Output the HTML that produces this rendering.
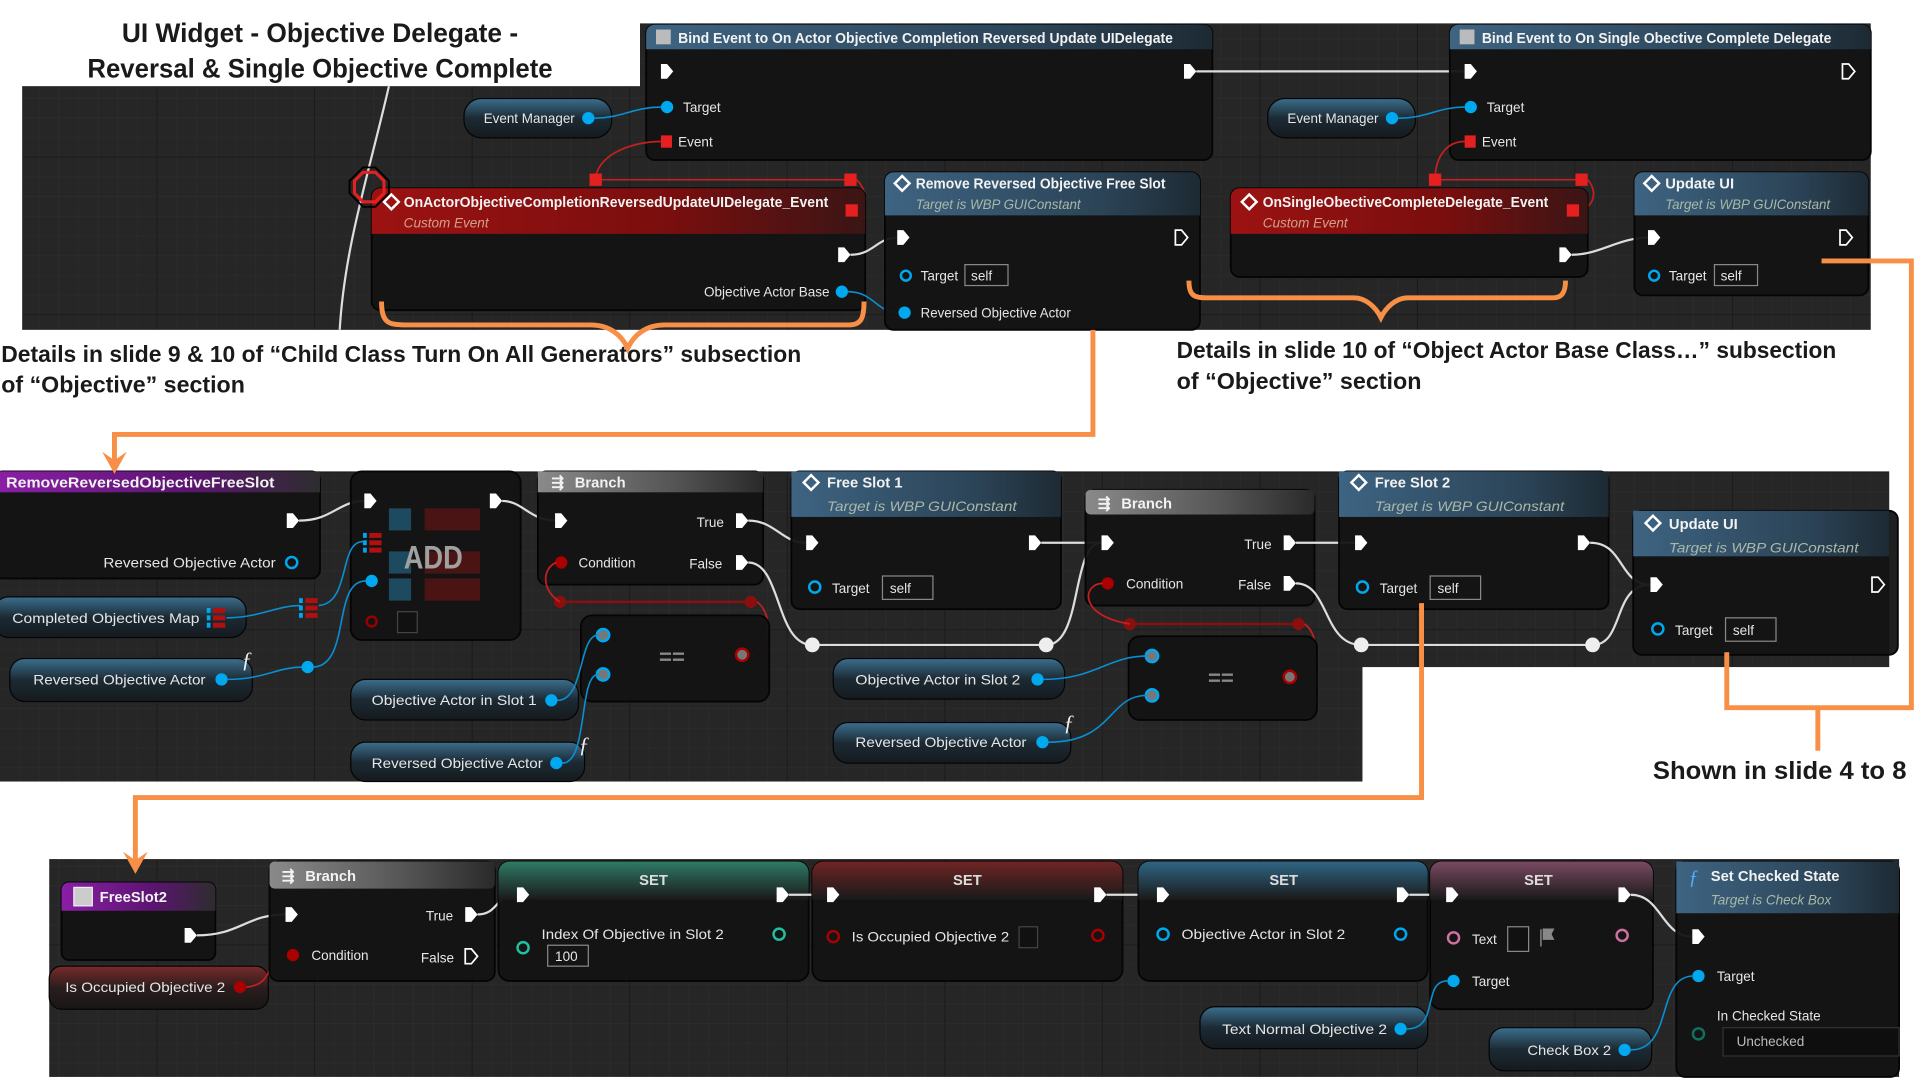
<!DOCTYPE html>
<html><head><meta charset="utf-8"><style>
html,body{margin:0;padding:0;background:#fff;width:1920px;height:1080px;overflow:hidden}
svg{display:block}
.t{fill:#e6e6e6;font-family:"Liberation Sans Narrow","Liberation Sans",sans-serif;font-size:11px}
.h{fill:#f2f2f2;font-family:"Liberation Sans Narrow","Liberation Sans",sans-serif;font-size:12px;font-weight:bold}
.s{fill:#a9b8a8;font-family:"Liberation Sans Narrow","Liberation Sans",sans-serif;font-size:11px;font-style:italic}
.big{fill:#1a1a1a;font-family:"Liberation Sans Narrow","Liberation Sans",sans-serif;font-weight:bold}
.node{fill:#131313;fill-opacity:.95;stroke:#050505;stroke-width:1.5}
.ex{fill:#fff}
.exh{fill:none;stroke:#fff;stroke-width:1.4}
.w{fill:none;stroke:#ddd;stroke-width:1.8}
.bw{fill:none;stroke:#0a8fd0;stroke-width:1.3}
.rw{fill:none;stroke:#c42020;stroke-width:1.4}
.or{fill:none;stroke:#f79046;stroke-width:4}
.bp{fill:#00a8f0}
.bph{fill:none;stroke:#00a8f0;stroke-width:2}
.box{fill:#141414;stroke:#888;stroke-width:1}
</style></head><body>
<svg width="1920" height="1080" viewBox="0 0 1560 877.5" preserveAspectRatio="none" xmlns="http://www.w3.org/2000/svg">
<defs>
<pattern id="g" width="16" height="16" patternUnits="userSpaceOnUse"><rect width="16" height="16" fill="#262626"/><path d="M16 0V16M0 16H16" stroke="#2e2e2e" stroke-width="1"/></pattern>
<pattern id="G" width="128" height="128" patternUnits="userSpaceOnUse"><rect width="128" height="128" fill="url(#g)"/><path d="M128 0V128M0 128H128" stroke="#1a1a1a" stroke-width="1.5"/></pattern>
<linearGradient id="blue" x1="0" x2="1"><stop offset="0" stop-color="#3e6482"/><stop offset=".7" stop-color="#2b4356"/><stop offset="1" stop-color="#1d2a33"/></linearGradient>
<linearGradient id="red" x1="0" x2="1"><stop offset="0" stop-color="#9c1212"/><stop offset=".6" stop-color="#7a0e0e"/><stop offset="1" stop-color="#3a1515"/></linearGradient>
<linearGradient id="purp" x1="0" x2="1"><stop offset="0" stop-color="#8a1fa6"/><stop offset=".6" stop-color="#5b1470"/><stop offset="1" stop-color="#2d2d2d"/></linearGradient>
<linearGradient id="gray" x1="0" x2="1"><stop offset="0" stop-color="#8a8a8a"/><stop offset=".6" stop-color="#555"/><stop offset="1" stop-color="#2a2a2a"/></linearGradient>
<linearGradient id="pillg" x1="0" y1="0" x2="0" y2="1"><stop offset="0" stop-color="#3b6f8e"/><stop offset=".5" stop-color="#1c2a34"/><stop offset="1" stop-color="#151a1e"/></linearGradient>
<linearGradient id="pillr" x1="0" y1="0" x2="0" y2="1"><stop offset="0" stop-color="#7a2a2a"/><stop offset=".5" stop-color="#2a1d1d"/><stop offset="1" stop-color="#181616"/></linearGradient>
<linearGradient id="setg" x1="0" y1="0" x2="0" y2="1"><stop offset="0" stop-color="#2f7a66"/><stop offset="1" stop-color="#1a1a1a"/></linearGradient>
<linearGradient id="setr" x1="0" y1="0" x2="0" y2="1"><stop offset="0" stop-color="#6e2424"/><stop offset="1" stop-color="#1a1a1a"/></linearGradient>
<linearGradient id="setb" x1="0" y1="0" x2="0" y2="1"><stop offset="0" stop-color="#2f6684"/><stop offset="1" stop-color="#1a1a1a"/></linearGradient>
<linearGradient id="setp" x1="0" y1="0" x2="0" y2="1"><stop offset="0" stop-color="#7a4a62"/><stop offset="1" stop-color="#1a1a1a"/></linearGradient>
</defs>

<rect x="18" y="70" width="510" height="198" fill="url(#G)"/>
<rect x="520" y="19" width="1000" height="249" fill="url(#G)"/>
<rect x="0" y="383" width="1107" height="252" fill="url(#G)"/>
<rect x="1100" y="383" width="435" height="159" fill="url(#G)"/>
<rect x="40" y="698" width="1503" height="177" fill="url(#G)"/>

<text class="big" x="260" y="34" text-anchor="middle" font-size="22" textLength="322" lengthAdjust="spacingAndGlyphs">UI Widget - Objective Delegate -</text>
<text class="big" x="260" y="63" text-anchor="middle" font-size="22" textLength="378" lengthAdjust="spacingAndGlyphs">Reversal &amp; Single Objective Complete</text>
<text class="big" x="1" y="294" font-size="19" textLength="650" lengthAdjust="spacingAndGlyphs">Details in slide 9 &amp; 10 of “Child Class Turn On All Generators” subsection</text>
<text class="big" x="1" y="319" font-size="19" textLength="198" lengthAdjust="spacingAndGlyphs">of “Objective” section</text>
<text class="big" x="956" y="291" font-size="19" textLength="536" lengthAdjust="spacingAndGlyphs">Details in slide 10 of “Object Actor Base Class…” subsection</text>
<text class="big" x="956" y="316" font-size="19" textLength="199" lengthAdjust="spacingAndGlyphs">of “Objective” section</text>
<text class="big" x="1343" y="633" font-size="20" textLength="206" lengthAdjust="spacingAndGlyphs">Shown in slide 4 to 8</text>

<path d="M316 70 C300 140 280 200 276 268" class="w" stroke-width="1.5"/>
<rect class="node" x="525" y="20" width="460" height="110" rx="7"/>
<path d="M532 20h446a7 7 0 0 1 7 7v13H525V27a7 7 0 0 1 7-7z" fill="url(#blue)"/>
<rect x="533" y="24" width="12" height="12" fill="#bbb"/>
<text class="h" x="551" y="35" textLength="402" lengthAdjust="spacingAndGlyphs">Bind Event to On Actor Objective Completion Reversed Update UIDelegate</text>
<path class="ex" d="M537 52h5l5 6-5 6h-5z"/><path class="ex" d="M962 52h5l5 6-5 6h-5z"/>
<circle class="bp" cx="542" cy="87" r="5"/><text class="t" x="555" y="91">Target</text>
<rect x="537" y="110" width="9" height="10" fill="#e52020"/><text class="t" x="551" y="119">Event</text>
<path d="M972 58H1190" class="w"/>
<rect x="377" y="80" width="120" height="32" rx="14" fill="url(#pillg)" stroke="#050505"/>
<text class="t" x="393" y="100" textLength="74" lengthAdjust="spacingAndGlyphs">Event Manager</text><circle class="bp" cx="478" cy="96" r="5"/>
<path class="bw" d="M483 96C505 96 515 87 537 87"/>
<rect class="node" x="1178" y="20" width="342" height="110" rx="7"/>
<path d="M1185 20h328a7 7 0 0 1 7 7v13H1178V27a7 7 0 0 1 7-7z" fill="url(#blue)"/>
<rect x="1186" y="24" width="12" height="12" fill="#bbb"/>
<text class="h" x="1204" y="35" textLength="284" lengthAdjust="spacingAndGlyphs">Bind Event to On Single Obective Complete Delegate</text>
<path class="ex" d="M1190 52h5l5 6-5 6h-5z"/><path class="exh" d="M1497 52h5l5 6-5 6h-5z"/>
<circle class="bp" cx="1195" cy="87" r="5"/><text class="t" x="1208" y="91">Target</text>
<rect x="1190" y="110" width="9" height="10" fill="#e52020"/><text class="t" x="1204" y="119">Event</text>
<rect x="1030" y="80" width="120" height="32" rx="14" fill="url(#pillg)" stroke="#050505"/>
<text class="t" x="1046" y="100" textLength="74" lengthAdjust="spacingAndGlyphs">Event Manager</text><circle class="bp" cx="1131" cy="96" r="5"/>
<path class="bw" d="M1136 96C1160 96 1168 87 1190 87"/>

<path class="rw" d="M484 146H691M484 146C484 128 510 115 537 115"/>
<rect x="479" y="141" width="10" height="10" fill="#e52020"/><rect x="686" y="141" width="10" height="10" fill="#e52020"/>
<path class="rw" d="M696 146C705 155 705 168 697 171"/>
<path class="rw" d="M1166 146H1285M1166 146C1166 128 1175 115 1190 115"/>
<rect x="1161" y="141" width="10" height="10" fill="#e52020"/><rect x="1280" y="141" width="10" height="10" fill="#e52020"/>
<path class="rw" d="M1290 146C1298 155 1296 168 1283 171"/>

<rect class="node" x="302" y="153" width="401" height="99" rx="7"/>
<path d="M309 153h387a7 7 0 0 1 7 7v30H302v-30a7 7 0 0 1 7-7z" fill="url(#red)"/>
<path d="M318 158l6 6-6 6-6-6z" fill="none" stroke="#fff" stroke-width="2"/>
<text class="h" x="328" y="168" textLength="345" lengthAdjust="spacingAndGlyphs">OnActorObjectiveCompletionReversedUpdateUIDelegate_Event</text>
<text class="s" x="328" y="185" style="fill:#d4a08c">Custom Event</text>
<rect x="687" y="166" width="10" height="10" fill="#e52020"/>
<path class="ex" d="M681 201h5l5 6-5 6h-5z"/>
<text class="t" x="572" y="241" textLength="102" lengthAdjust="spacingAndGlyphs">Objective Actor Base</text><circle class="bp" cx="684" cy="237" r="5"/>
<polygon points="295,140 305,140 312,147 312,157 305,164 295,164 288,157 288,147" fill="none" stroke="#e52020" stroke-width="2.5"/>
<polygon points="295,136 305,136 316,147 316,157 305,168 295,168 284,157 284,147" fill="none" stroke="#000" stroke-width="1.5"/>
<path class="w" d="M691 207C710 207 712 193 730 193"/>
<path class="bw" d="M689 237C710 237 712 254 730 254"/>

<rect class="node" x="719" y="140" width="256" height="128" rx="7"/>
<path d="M726 140h242a7 7 0 0 1 7 7v28H719v-28a7 7 0 0 1 7-7z" fill="url(#blue)"/>
<path d="M733 143l6 6-6 6-6-6z" fill="none" stroke="#fff" stroke-width="2"/>
<text class="h" x="744" y="153" textLength="203" lengthAdjust="spacingAndGlyphs">Remove Reversed Objective Free Slot</text>
<text class="s" x="744" y="170" textLength="134" lengthAdjust="spacingAndGlyphs">Target is WBP GUIConstant</text>
<path class="ex" d="M729 187h5l5 6-5 6h-5z"/><path class="exh" d="M955 187h5l5 6-5 6h-5z"/>
<circle class="bph" cx="736" cy="224" r="4"/><text class="t" x="748" y="228">Target</text>
<rect class="box" x="784" y="215" width="35" height="17"/><text class="t" x="789" y="228">self</text>
<circle class="bp" cx="735" cy="254" r="5"/><text class="t" x="748" y="258" textLength="122" lengthAdjust="spacingAndGlyphs">Reversed Objective Actor</text>

<rect class="node" x="1000" y="153" width="290" height="72" rx="7"/>
<path d="M1007 153h276a7 7 0 0 1 7 7v30H1000v-30a7 7 0 0 1 7-7z" fill="url(#red)"/>
<path d="M1015 158l6 6-6 6-6-6z" fill="none" stroke="#fff" stroke-width="2"/>
<text class="h" x="1026" y="168" textLength="232" lengthAdjust="spacingAndGlyphs">OnSingleObectiveCompleteDelegate_Event</text>
<text class="s" x="1026" y="185" style="fill:#d4a08c">Custom Event</text>
<rect x="1273" y="166" width="10" height="10" fill="#e52020"/>
<path class="ex" d="M1267 201h5l5 6-5 6h-5z"/>
<path class="w" d="M1277 207C1300 207 1315 193 1340 193"/>

<rect class="node" x="1328" y="140" width="190" height="100" rx="7"/>
<path d="M1335 140h176a7 7 0 0 1 7 7v28H1328v-28a7 7 0 0 1 7-7z" fill="url(#blue)"/>
<path d="M1342 143l6 6-6 6-6-6z" fill="none" stroke="#fff" stroke-width="2"/>
<text class="h" x="1353" y="153">Update UI</text>
<text class="s" x="1353" y="170" textLength="134" lengthAdjust="spacingAndGlyphs">Target is WBP GUIConstant</text>
<path class="ex" d="M1339 187h5l5 6-5 6h-5z"/><path class="exh" d="M1495 187h5l5 6-5 6h-5z"/>
<circle class="bph" cx="1344" cy="224" r="4"/><text class="t" x="1356" y="228">Target</text>
<rect class="box" x="1393" y="215" width="35" height="17"/><text class="t" x="1398" y="228">self</text>

<!-- MIDDLE -->
<rect class="node" x="-5" y="383" width="265" height="87" rx="7"/>
<rect x="0" y="383" width="260" height="17" fill="url(#purp)"/>
<text class="h" x="5" y="396" font-size="13" textLength="218" lengthAdjust="spacingAndGlyphs">RemoveReversedObjectiveFreeSlot</text>
<path class="ex" d="M233 417h5l5 6-5 6h-5z"/>
<text class="t" x="84" y="461" font-size="12" textLength="140" lengthAdjust="spacingAndGlyphs">Reversed Objective Actor</text><circle class="bph" cx="237" cy="457" r="4.5"/>
<path class="w" d="M243 423C270 423 275 407 296 407"/>

<rect class="node" x="285" y="383" width="138" height="137" rx="9"/>
<rect x="316" y="413" width="18" height="18" fill="#1e4a60"/><rect x="345" y="413" width="45" height="18" fill="#4a1414"/>
<rect x="316" y="448" width="18" height="18" fill="#1e4a60"/><rect x="345" y="448" width="45" height="18" fill="#4a1414"/>
<rect x="316" y="470" width="18" height="18" fill="#1e4a60"/><rect x="345" y="470" width="45" height="18" fill="#4a1414"/>
<text x="352" y="462" text-anchor="middle" font-family="Liberation Sans Narrow,Liberation Sans,sans-serif" font-weight="bold" font-size="26" fill="#a0a0a0" textLength="48" lengthAdjust="spacingAndGlyphs">ADD</text>
<path class="ex" d="M296 401h5l5 6-5 6h-5z"/><path class="ex" d="M398 401h5l5 6-5 6h-5z"/>
<rect x="295" y="433" width="3" height="4" fill="#00a8f0"/><rect x="300" y="433" width="10" height="4" fill="#b01010"/>
<rect x="295" y="439" width="3" height="4" fill="#00a8f0"/><rect x="300" y="439" width="10" height="4" fill="#b01010"/>
<rect x="295" y="445" width="3" height="4" fill="#00a8f0"/><rect x="300" y="445" width="10" height="4" fill="#b01010"/>
<circle class="bp" cx="302" cy="472" r="5"/>
<circle cx="302" cy="505" r="4" fill="none" stroke="#900" stroke-width="2"/><rect x="323" y="497" width="16" height="17" fill="#111" stroke="#444"/>
<path class="w" d="M408 407C425 407 430 423 452 423"/>

<rect x="-5" y="485" width="205" height="33" rx="12" fill="url(#pillg)" stroke="#050505"/>
<text class="t" x="10" y="506" font-size="12" textLength="152" lengthAdjust="spacingAndGlyphs">Completed Objectives Map</text>
<rect x="168" y="494" width="3" height="4" fill="#00a8f0"/><rect x="173" y="494" width="10" height="4" fill="#b01010"/>
<rect x="168" y="500" width="3" height="4" fill="#00a8f0"/><rect x="173" y="500" width="10" height="4" fill="#b01010"/>
<rect x="168" y="506" width="3" height="4" fill="#00a8f0"/><rect x="173" y="506" width="10" height="4" fill="#b01010"/>
<path class="bw" d="M184 502C210 502 225 492 244 492"/>
<rect x="243" y="486" width="3" height="4" fill="#00a8f0"/><rect x="248" y="486" width="10" height="4" fill="#b01010"/>
<rect x="243" y="492" width="3" height="4" fill="#00a8f0"/><rect x="248" y="492" width="10" height="4" fill="#b01010"/>
<rect x="243" y="498" width="3" height="4" fill="#00a8f0"/><rect x="248" y="498" width="10" height="4" fill="#b01010"/>
<path class="bw" d="M259 492C285 490 275 440 295 440"/>

<rect x="8" y="535" width="197" height="35" rx="12" fill="url(#pillg)" stroke="#050505"/>
<text class="t" x="27" y="556" font-size="12" textLength="140" lengthAdjust="spacingAndGlyphs">Reversed Objective Actor</text><circle class="bp" cx="180" cy="552" r="5"/>
<text x="196" y="542" font-family="Liberation Serif,serif" font-style="italic" font-size="18" fill="#eee">ƒ</text>
<path class="bw" d="M185 552C215 552 225 542 246 542"/>
<circle class="bp" cx="250" cy="542" r="5"/>
<path class="bw" d="M255 542C285 540 270 472 297 472"/>

<rect class="node" x="437" y="383" width="183" height="92" rx="7"/>
<rect x="437" y="383" width="183" height="17" fill="url(#gray)"/>
<text class="h" x="448" y="396" font-size="13">⇶</text>
<text class="h" x="467" y="396" font-size="13">Branch</text>
<path class="ex" d="M451 417h5l5 6-5 6h-5z"/>
<text class="t" x="566" y="428" font-size="12">True</text><path class="ex" d="M598 417h5l5 6-5 6h-5z"/>
<circle cx="456" cy="457" r="5" fill="#a00"/><text class="t" x="470" y="461" font-size="12">Condition</text>
<text class="t" x="560" y="462" font-size="12">False</text><path class="ex" d="M598 451h5l5 6-5 6h-5z"/>
<path d="M455 489H610" stroke="#8a0f0f" stroke-width="2"/>
<circle cx="455" cy="489" r="5" fill="#8a0f0f"/><circle cx="610" cy="489" r="5" fill="#8a0f0f"/>
<path class="rw" stroke="#8a0f0f" d="M455 489C440 480 440 462 452 457M615 489C630 500 625 530 608 532"/>

<rect class="node" x="472" y="500" width="153" height="70" rx="9"/>
<circle cx="490" cy="516" r="5" fill="#777" stroke="#00a8f0" stroke-width="2"/>
<circle cx="490" cy="548" r="5" fill="#777" stroke="#00a8f0" stroke-width="2"/>
<text x="546" y="540" text-anchor="middle" font-family="Liberation Sans,sans-serif" font-weight="bold" font-size="18" fill="#888">==</text>
<circle cx="603" cy="532" r="5" fill="#777" stroke="#a00" stroke-width="2"/>

<rect x="285" y="552" width="185" height="33" rx="12" fill="url(#pillg)" stroke="#050505"/>
<text class="t" x="302" y="573" font-size="12" textLength="134" lengthAdjust="spacingAndGlyphs">Objective Actor in Slot 1</text><circle class="bp" cx="448" cy="569" r="5"/>
<rect x="285" y="603" width="190" height="32" rx="12" fill="url(#pillg)" stroke="#050505"/>
<text class="t" x="302" y="624" font-size="12" textLength="139" lengthAdjust="spacingAndGlyphs">Reversed Objective Actor</text><circle class="bp" cx="452" cy="620" r="5"/>
<text x="470" y="611" font-family="Liberation Serif,serif" font-style="italic" font-size="18" fill="#eee">ƒ</text>
<path class="bw" d="M453 569C475 569 470 516 486 516"/>
<path class="bw" d="M457 620C478 620 470 548 486 548"/>

<path class="w" d="M608 423C630 423 635 441 655 441"/>
<path class="w" d="M608 457C635 457 630 524 660 524H850C880 524 870 441 895 441"/>
<circle cx="660" cy="524" r="6" fill="#eee"/><circle cx="850" cy="524" r="6" fill="#eee"/>

<rect class="node" x="643" y="383" width="219" height="112" rx="7"/>
<rect x="643" y="383" width="219" height="37" fill="url(#blue)"/>
<path d="M659 386l6 6-6 6-6-6z" fill="none" stroke="#fff" stroke-width="2"/>
<text class="h" x="672" y="396" font-size="13">Free Slot 1</text>
<text class="s" x="672" y="415" font-size="12" textLength="154" lengthAdjust="spacingAndGlyphs">Target is WBP GUIConstant</text>
<path class="ex" d="M655 435h5l5 6-5 6h-5z"/><path class="ex" d="M836 435h5l5 6-5 6h-5z"/>
<circle class="bph" cx="662" cy="477" r="4.5"/><text class="t" x="676" y="482" font-size="13">Target</text>
<rect class="box" x="717" y="468" width="41" height="19"/><text class="t" x="723" y="482" font-size="13">self</text>
<path class="w" d="M846 441H895"/>

<rect class="node" x="882" y="398" width="186" height="94" rx="7"/>
<rect x="882" y="398" width="186" height="20" rx="4" fill="url(#gray)"/>
<text class="h" x="892" y="413" font-size="13">⇶</text>
<text class="h" x="911" y="413" font-size="13">Branch</text>
<path class="ex" d="M895 435h5l5 6-5 6h-5z"/>
<text class="t" x="1011" y="446" font-size="12">True</text><path class="ex" d="M1043 435h5l5 6-5 6h-5z"/>
<circle cx="900" cy="474" r="5" fill="#a00"/><text class="t" x="915" y="478" font-size="12">Condition</text>
<text class="t" x="1006" y="479" font-size="12">False</text><path class="ex" d="M1043 468h5l5 6-5 6h-5z"/>
<path d="M918 507H1055" stroke="#8a0f0f" stroke-width="2"/>
<circle cx="918" cy="507" r="5" fill="#8a0f0f"/><circle cx="1055" cy="507" r="5" fill="#8a0f0f"/>
<path class="rw" stroke="#8a0f0f" d="M918 507C875 500 880 474 896 474M1060 507C1075 518 1068 545 1052 550"/>

<rect class="node" x="917" y="517" width="153" height="68" rx="9"/>
<circle cx="936" cy="533" r="5" fill="#777" stroke="#00a8f0" stroke-width="2"/>
<circle cx="936" cy="565" r="5" fill="#777" stroke="#00a8f0" stroke-width="2"/>
<text x="992" y="557" text-anchor="middle" font-family="Liberation Sans,sans-serif" font-weight="bold" font-size="18" fill="#888">==</text>
<circle cx="1048" cy="550" r="5" fill="#777" stroke="#a00" stroke-width="2"/>
<rect x="677" y="535" width="188" height="33" rx="12" fill="url(#pillg)" stroke="#050505"/>
<text class="t" x="695" y="556" font-size="12" textLength="134" lengthAdjust="spacingAndGlyphs">Objective Actor in Slot 2</text><circle class="bp" cx="843" cy="552" r="5"/>
<rect x="677" y="587" width="193" height="33" rx="12" fill="url(#pillg)" stroke="#050505"/>
<text class="t" x="695" y="607" font-size="12" textLength="139" lengthAdjust="spacingAndGlyphs">Reversed Objective Actor</text><circle class="bp" cx="847" cy="603" r="5"/>
<text x="864" y="593" font-family="Liberation Serif,serif" font-style="italic" font-size="18" fill="#eee">ƒ</text>
<path class="bw" d="M848 552C890 552 900 533 932 533"/>
<path class="bw" d="M852 603C905 603 900 565 932 565"/>

<path class="w" d="M1053 441H1101"/>
<path class="w" d="M1053 474C1080 474 1075 524 1106 524H1294C1320 524 1310 475 1341 475"/>
<circle cx="1106" cy="524" r="6" fill="#eee"/><circle cx="1294" cy="524" r="6" fill="#eee"/>

<rect class="node" x="1088" y="383" width="219" height="112" rx="7"/>
<rect x="1088" y="383" width="219" height="37" fill="url(#blue)"/>
<path d="M1104 386l6 6-6 6-6-6z" fill="none" stroke="#fff" stroke-width="2"/>
<text class="h" x="1117" y="396" font-size="13">Free Slot 2</text>
<text class="s" x="1117" y="415" font-size="12" textLength="154" lengthAdjust="spacingAndGlyphs">Target is WBP GUIConstant</text>
<path class="ex" d="M1101 435h5l5 6-5 6h-5z"/><path class="ex" d="M1282 435h5l5 6-5 6h-5z"/>
<circle class="bph" cx="1107" cy="477" r="4.5"/><text class="t" x="1121" y="482" font-size="13">Target</text>
<rect class="box" x="1162" y="468" width="41" height="19"/><text class="t" x="1168" y="482" font-size="13">self</text>
<path class="w" d="M1292 441C1320 441 1315 475 1341 475"/>

<rect class="node" x="1327" y="415" width="215" height="117" rx="7"/>
<rect x="1327" y="415" width="208" height="37" fill="url(#blue)"/>
<path d="M1343 419l6 6-6 6-6-6z" fill="none" stroke="#fff" stroke-width="2"/>
<text class="h" x="1356" y="430" font-size="13">Update UI</text>
<text class="s" x="1356" y="449" font-size="12" textLength="154" lengthAdjust="spacingAndGlyphs">Target is WBP GUIConstant</text>
<path class="ex" d="M1341 469h5l5 6-5 6h-5z"/><path class="exh" d="M1521 469h5l5 6-5 6h-5z"/>
<circle class="bph" cx="1347" cy="511" r="4.5"/><text class="t" x="1361" y="516" font-size="13">Target</text>
<rect class="box" x="1402" y="502" width="41" height="19"/><text class="t" x="1408" y="516" font-size="13">self</text>

<!-- BOTTOM -->
<rect class="node" x="50" y="717" width="125" height="63" rx="6"/>
<path d="M56 717h113a6 6 0 0 1 6 6v17H50v-17a6 6 0 0 1 6-6z" fill="url(#purp)"/>
<rect x="60" y="721" width="15" height="15" fill="#ccc" stroke="#eee"/>
<text class="h" x="81" y="733" font-size="13">FreeSlot2</text>
<path class="ex" d="M150 754h5l5 6-5 6h-5z"/>
<path class="w" d="M160 760C195 760 200 743 232 743"/>
<rect x="40" y="785" width="178" height="35" rx="10" fill="url(#pillr)" stroke="#050505"/>
<text class="t" x="53" y="806" font-size="12" textLength="130" lengthAdjust="spacingAndGlyphs">Is Occupied Objective 2</text><circle cx="195" cy="802" r="5" fill="#a00"/>
<path class="rw" stroke="#8a0f0f" d="M200 802C225 800 215 776 233 776"/>

<rect class="node" x="219" y="700" width="183" height="97" rx="7"/>
<rect x="219" y="700" width="183" height="22" rx="4" fill="url(#gray)"/>
<text class="h" x="229" y="716" font-size="13">⇶</text>
<text class="h" x="248" y="716" font-size="13">Branch</text>
<path class="ex" d="M232 737h5l5 6-5 6h-5z"/>
<text class="t" x="346" y="748" font-size="12">True</text><path class="ex" d="M378 737h5l5 6-5 6h-5z"/>
<circle cx="238" cy="776" r="5" fill="#a00"/><text class="t" x="253" y="780" font-size="12">Condition</text>
<text class="t" x="342" y="782" font-size="12">False</text><path class="exh" d="M378 771h5l5 6-5 6h-5z"/>
<path class="w" d="M388 743C405 743 402 727 420 727"/>

<rect class="node" x="405" y="700" width="252" height="97" rx="9"/>
<path d="M414 700h234a9 9 0 0 1 9 9v22H405v-22a9 9 0 0 1 9-9z" fill="url(#setg)"/>
<text class="h" x="531" y="719" text-anchor="middle" style="fill:#ddd">SET</text>
<path class="ex" d="M420 721h5l5 6-5 6h-5z"/><path class="ex" d="M631 721h5l5 6-5 6h-5z"/>
<circle cx="425" cy="770" r="4.5" fill="none" stroke="#20c0a0" stroke-width="2"/>
<text class="t" x="440" y="763" font-size="12" textLength="148" lengthAdjust="spacingAndGlyphs">Index Of Objective in Slot 2</text>
<rect class="box" x="445" y="768" width="33" height="17"/><text class="t" x="451" y="781">100</text>
<circle cx="633" cy="759" r="4.5" fill="none" stroke="#20c0a0" stroke-width="2"/>
<path class="w" d="M641 727H672"/>

<rect class="node" x="660" y="700" width="252" height="97" rx="9"/>
<path d="M669 700h234a9 9 0 0 1 9 9v22H660v-22a9 9 0 0 1 9-9z" fill="url(#setr)"/>
<text class="h" x="786" y="719" text-anchor="middle" style="fill:#ddd">SET</text>
<path class="ex" d="M672 721h5l5 6-5 6h-5z"/><path class="ex" d="M889 721h5l5 6-5 6h-5z"/>
<circle cx="677" cy="761" r="4.5" fill="none" stroke="#a00" stroke-width="2"/>
<text class="t" x="692" y="765" font-size="12" textLength="128" lengthAdjust="spacingAndGlyphs">Is Occupied Objective 2</text>
<rect x="828" y="753" width="15" height="17" fill="#111" stroke="#444"/>
<circle cx="892" cy="760" r="4.5" fill="none" stroke="#a00" stroke-width="2"/>
<path class="w" d="M899 727H940"/>

<rect class="node" x="925" y="700" width="235" height="97" rx="9"/>
<path d="M934 700h217a9 9 0 0 1 9 9v22H925v-22a9 9 0 0 1 9-9z" fill="url(#setb)"/>
<text class="h" x="1043" y="719" text-anchor="middle" style="fill:#ddd">SET</text>
<path class="ex" d="M940 721h5l5 6-5 6h-5z"/><path class="ex" d="M1135 721h5l5 6-5 6h-5z"/>
<circle class="bph" cx="945" cy="759" r="4.5"/>
<text class="t" x="960" y="763" font-size="12" textLength="133" lengthAdjust="spacingAndGlyphs">Objective Actor in Slot 2</text>
<circle class="bph" cx="1138" cy="759" r="4.5"/>
<path class="w" d="M1145 727H1175"/>

<rect class="node" x="1162" y="700" width="181" height="120" rx="9"/>
<path d="M1171 700h163a9 9 0 0 1 9 9v22H1162v-22a9 9 0 0 1 9-9z" fill="url(#setp)"/>
<text class="h" x="1250" y="719" text-anchor="middle" style="fill:#ddd">SET</text>
<path class="ex" d="M1175 721h5l5 6-5 6h-5z"/><path class="ex" d="M1315 721h5l5 6-5 6h-5z"/>
<circle cx="1181" cy="762" r="4.5" fill="none" stroke="#d070a0" stroke-width="2"/>
<text class="t" x="1196" y="767" font-size="12">Text</text>
<rect x="1225" y="753" width="17" height="20" fill="#111" stroke="#888"/>
<path d="M1252 755v14M1254 755h8l-2 4 2 4h-8z" stroke="#888" fill="#888" stroke-width="1.2"/>
<circle cx="1318" cy="760" r="4.5" fill="none" stroke="#d070a0" stroke-width="2"/>
<circle class="bp" cx="1181" cy="797" r="5"/><text class="t" x="1196" y="801" font-size="12">Target</text>
<path class="w" d="M1325 727C1350 727 1350 761 1375 761"/>

<rect x="975" y="818" width="185" height="34" rx="12" fill="url(#pillg)" stroke="#050505"/>
<text class="t" x="993" y="840" font-size="12" textLength="134" lengthAdjust="spacingAndGlyphs">Text Normal Objective 2</text><circle class="bp" cx="1138" cy="836" r="5"/>
<path class="bw" d="M1143 836C1170 836 1155 797 1176 797"/>

<rect class="node" x="1362" y="700" width="181" height="175" rx="7"/>
<rect x="1362" y="700" width="181" height="42" fill="url(#blue)"/>
<text x="1372" y="718" font-family="Liberation Serif,serif" font-style="italic" font-size="16" fill="#4fb0ff">ƒ</text>
<text class="h" x="1390" y="716" font-size="13">Set Checked State</text>
<text class="s" x="1390" y="735" font-size="12">Target is Check Box</text>
<path class="ex" d="M1375 755h5l5 6-5 6h-5z"/>
<circle class="bp" cx="1380" cy="793" r="5"/><text class="t" x="1395" y="797" font-size="12">Target</text>
<text class="t" x="1395" y="829" font-size="12">In Checked State</text>
<circle cx="1380" cy="840" r="4.5" fill="none" stroke="#107060" stroke-width="2"/>
<rect x="1400" y="835" width="143" height="23" fill="#0e0e0e" stroke="#333"/>
<text class="t" x="1411" y="850" style="fill:#bbb">Unchecked</text>
<rect x="1210" y="835" width="132" height="35" rx="12" fill="url(#pillg)" stroke="#050505"/>
<text class="t" x="1241" y="857" font-size="12" textLength="68" lengthAdjust="spacingAndGlyphs">Check Box 2</text><circle class="bp" cx="1320" cy="853" r="5"/>
<path class="bw" d="M1325 853C1360 853 1345 793 1376 793"/>

<!-- ORANGE -->
<path class="or" d="M310 245C310 262 315 264 330 264H480C495 264 505 272 510 283C515 272 525 264 540 264H690C700 264 702 258 702 245"/>
<path class="or" d="M966 228C966 240 970 242 980 242H1100C1110 242 1118 250 1122 258C1126 250 1134 242 1144 242H1262C1270 242 1272 236 1272 228"/>
<path class="or" d="M888 268V353H93V375"/>
<path d="M83 367L93 385L103 367L93 374Z" fill="#f79046"/>
<path class="or" d="M1480 212H1553V575H1403V530"/>
<path class="or" d="M1477 575V610"/>
<path class="or" d="M1155 490V648H110V700"/>
<path d="M100 692L110 710L120 692L110 699Z" fill="#f79046"/>
</svg>
</body></html>
